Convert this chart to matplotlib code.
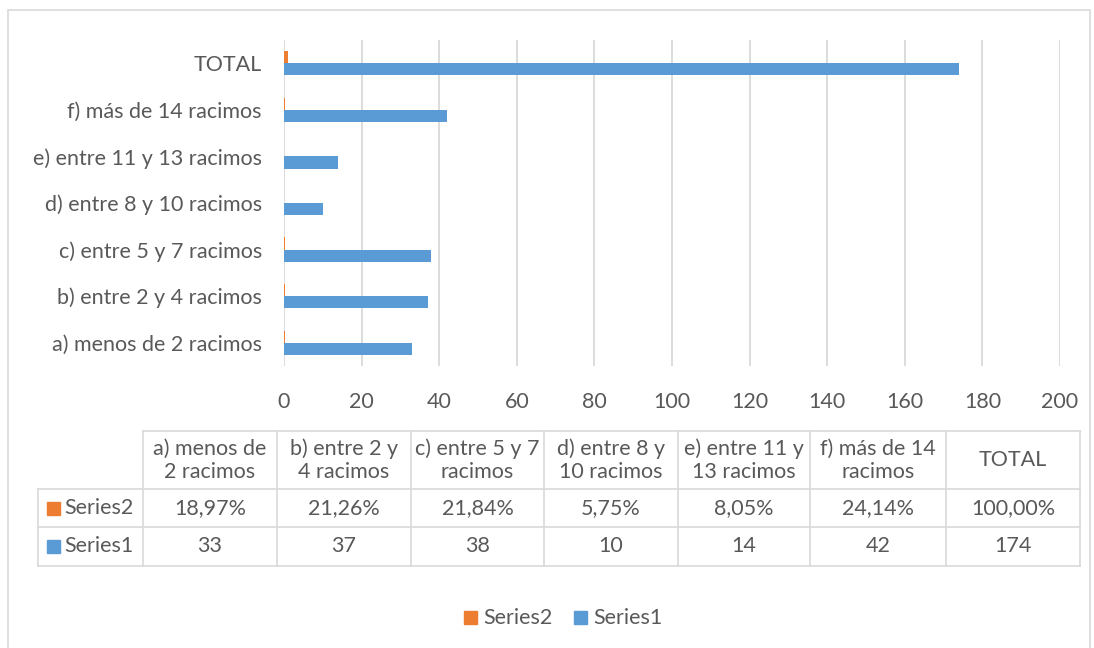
import matplotlib.pyplot as plt
from matplotlib.patches import Rectangle
from matplotlib.lines import Line2D

categories = ['a) menos de 2 racimos', 'b) entre 2 y 4 racimos', 'c) entre 5 y 7 racimos',
              'd) entre 8 y 10 racimos', 'e) entre 11 y 13 racimos', 'f) más de 14 racimos', 'TOTAL']
header_labels = ['a) menos de\n2 racimos', 'b) entre 2 y\n4 racimos', 'c) entre 5 y 7\nracimos',
                 'd) entre 8 y\n10 racimos', 'e) entre 11 y\n13 racimos', 'f) más de 14\nracimos', 'TOTAL']
series1 = [33, 37, 38, 10, 14, 42, 174]
series2 = [0.1897, 0.2126, 0.2184, 0.0575, 0.0805, 0.2414, 1.0]
series2_text = ['18,97%', '21,26%', '21,84%', '5,75%', '8,05%', '24,14%', '100,00%']

blue = '#5B9BD5'
orange = '#ED7D31'
txt = '#595959'
grid = '#D9D9D9'
fs = 15.5
plt.rcParams['font.family'] = ['Lato', 'DejaVu Sans']

W, H = 1094, 648
fig = plt.figure(figsize=(W / 100, H / 100), dpi=100)


def fx(x):
    return x / W


def fy(y):
    return 1 - y / H


# outer chart frame
fig.add_artist(Rectangle((fx(8), fy(700)), fx(1082), fy(10) - fy(700), transform=fig.transFigure,
                         fill=False, edgecolor=grid, lw=1.2))

ax = fig.add_axes([fx(284), fy(366), fx(1060) - fx(284), fy(40) - fy(366)])
y = list(range(len(categories)))
h = 0.26
ax.barh([v - h / 2 for v in y], series1, height=h, color=blue)
ax.barh([v + h / 2 for v in y], series2, height=h, color=orange)
ax.set_xlim(0, 200)
ax.set_ylim(-0.5, len(categories) - 0.5)
ax.set_xticks(range(0, 201, 20))
ax.set_yticks(y)
ax.set_yticklabels(categories)
ax.xaxis.grid(True, color=grid, lw=1.3)
ax.set_axisbelow(True)
for s in ax.spines.values():
    s.set_visible(False)
ax.tick_params(axis='both', length=0, colors=txt, labelsize=fs)
ax.tick_params(axis='x', pad=19)
ax.tick_params(axis='y', pad=16)

# data table
col_x = [38, 143, 277, 411, 544, 678, 810, 946, 1080]
row_y = [431, 489, 527, 566]
lw = 1.2
fig.add_artist(Line2D([fx(col_x[1]), fx(col_x[-1])], [fy(row_y[0])] * 2, color=grid, lw=lw))
for ry in row_y[1:]:
    fig.add_artist(Line2D([fx(col_x[0]), fx(col_x[-1])], [fy(ry)] * 2, color=grid, lw=lw))
fig.add_artist(Line2D([fx(col_x[0])] * 2, [fy(row_y[1]), fy(row_y[-1])], color=grid, lw=lw))
for cx in col_x[1:]:
    fig.add_artist(Line2D([fx(cx)] * 2, [fy(row_y[0]), fy(row_y[-1])], color=grid, lw=lw))

for i, lab in enumerate(header_labels):
    cx = (col_x[i + 1] + col_x[i + 2]) / 2
    fig.text(fx(cx), fy((row_y[0] + row_y[1]) / 2), lab, ha='center', va='center',
             color=txt, fontsize=fs, linespacing=1.2)
    fig.text(fx(cx), fy((row_y[1] + row_y[2]) / 2), series2_text[i], ha='center', va='center',
             color=txt, fontsize=fs)
    fig.text(fx(cx), fy((row_y[2] + row_y[3]) / 2), str(series1[i]), ha='center', va='center',
             color=txt, fontsize=fs)

for (name, col, r) in [('Series2', orange, 1), ('Series1', blue, 2)]:
    yc = (row_y[r] + row_y[r + 1]) / 2
    fig.add_artist(Rectangle((fx(47), fy(yc + 6.5)), fx(13), fy(yc - 6.5) - fy(yc + 6.5),
                             transform=fig.transFigure, color=col))
    fig.text(fx(64), fy(yc), name, ha='left', va='center', color=txt, fontsize=fs)

# legend
for (name, col, x0) in [('Series2', orange, 464), ('Series1', blue, 574)]:
    fig.add_artist(Rectangle((fx(x0), fy(624)), fx(13), fy(611) - fy(624),
                             transform=fig.transFigure, color=col))
    fig.text(fx(x0 + 19), fy(618), name, ha='left', va='center', color=txt, fontsize=fs)

fig.savefig('out.png', dpi=100)
